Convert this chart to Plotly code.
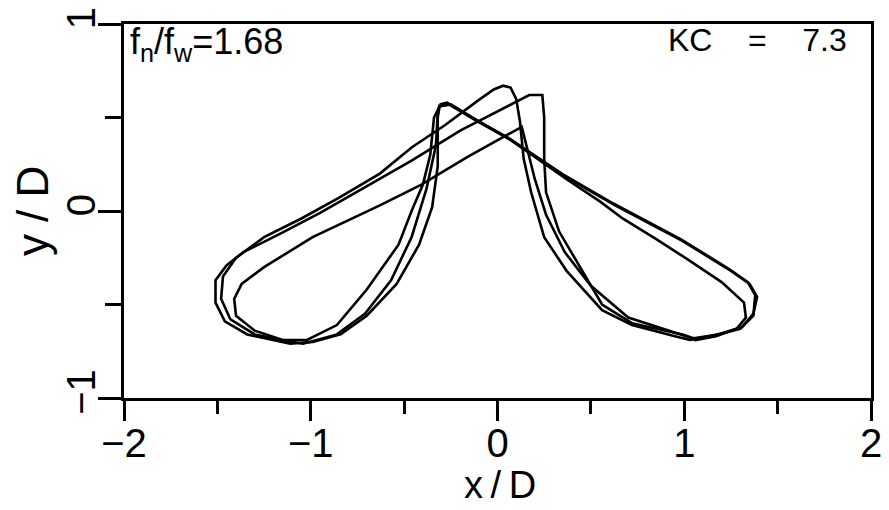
import plotly.graph_objects as go

# Cylinder trajectory, three successive oscillation cycles (x/D, y/D)
cycle1_x = [-0.31, -0.25, -0.10, 0.07, 0.37, 0.63, 0.99, 1.25, 1.35, 1.39, 1.37, 1.31, 1.18, 1.05, 0.99,
            0.72, 0.56, 0.46, 0.33, 0.26, 0.25, 0.25, 0.24, 0.17, -0.20, -0.46, -0.72, -0.95, -1.16, -1.36,
            -1.45, -1.51, -1.51, -1.46, -1.34, -1.11, -0.99, -0.84, -0.70, -0.54, -0.42, -0.35, -0.32, -0.32, -0.31]
cycle1_y = [0.56, 0.57, 0.48, 0.38, 0.18, 0.03, -0.16, -0.32, -0.39, -0.46, -0.55, -0.62, -0.66, -0.68, -0.66,
            -0.60, -0.50, -0.33, -0.11, 0.10, 0.28, 0.50, 0.62, 0.62, 0.43, 0.27, 0.12, -0.01, -0.12, -0.22,
            -0.29, -0.37, -0.49, -0.59, -0.66, -0.71, -0.70, -0.66, -0.56, -0.39, -0.18, 0.02, 0.24, 0.50, 0.56]

cycle2_x = [-0.31, -0.27, -0.12, 0.06, 0.36, 0.62, 0.98, 1.24, 1.34, 1.38, 1.37, 1.30, 1.14, 1.03, 0.95,
            0.72, 0.56, 0.37, 0.25, 0.18, 0.14, 0.12, 0.10, 0.07, 0.03, -0.02, -0.105, -0.28, -0.46, -0.63,
            -0.85, -1.05, -1.25, -1.40, -1.47, -1.48, -1.43, -1.30, -1.10, -1.04, -0.86, -0.71, -0.57, -0.46,
            -0.38, -0.33, -0.32, -0.31]
cycle2_y = [0.57, 0.58, 0.49, 0.39, 0.19, 0.04, -0.15, -0.31, -0.38, -0.45, -0.56, -0.63, -0.67, -0.69, -0.67,
            -0.61, -0.53, -0.32, -0.14, 0.10, 0.28, 0.48, 0.60, 0.66, 0.67, 0.65, 0.59, 0.46, 0.34, 0.20,
            0.07, -0.04, -0.14, -0.25, -0.35, -0.47, -0.58, -0.66, -0.70, -0.71, -0.66, -0.55, -0.37, -0.14,
            0.12, 0.35, 0.52, 0.57]

cycle3_x = [-0.31, -0.26, -0.11, 0.07, 0.37, 0.55, 0.67, 0.85, 1.02, 1.20, 1.32, 1.33, 1.28, 1.17, 1.06,
            1.01, 0.70, 0.50, 0.36, 0.26, 0.20, 0.16, 0.13, -0.16, -0.41, -0.63, -0.99, -1.25, -1.37, -1.41,
            -1.40, -1.30, -1.15, -1.02, -0.86, -0.70, -0.53, -0.46, -0.40, -0.36, -0.34, -0.31]
cycle3_y = [0.56, 0.57, 0.48, 0.38, 0.17, 0.05, -0.04, -0.15, -0.26, -0.38, -0.49, -0.57, -0.63, -0.67, -0.69,
            -0.67, -0.57, -0.40, -0.22, -0.02, 0.17, 0.34, 0.45, 0.29, 0.14, 0.03, -0.14, -0.30, -0.39, -0.47,
            -0.56, -0.64, -0.69, -0.69, -0.61, -0.42, -0.18, 0.00, 0.14, 0.30, 0.50, 0.56]

x_major = [-2, -1, 0, 1, 2]
x_major_text = ["\u22122", "\u22121", "0", "1", "2"]
x_minor = [-1.5, -0.5, 0.5, 1.5]
y_major = [-1, 0, 1]
y_major_text = ["\u22121", "0", "1"]
y_minor = [-0.5, 0.5]

FONT = "Liberation Sans"
INK = "black"
NB = "\u00a0"
TH = "\u2009"

fig = go.Figure()
for xs, ys in [(cycle1_x, cycle1_y), (cycle2_x, cycle2_y), (cycle3_x, cycle3_y)]:
    fig.add_trace(go.Scatter(x=xs, y=ys, mode="lines",
                             line=dict(color=INK, width=2.6), showlegend=False,
                             hoverinfo="skip"))

axis_common = dict(showline=True, linecolor=INK, linewidth=2.8, mirror=True,
                   ticks="outside", tickwidth=2.8, tickcolor=INK,
                   showgrid=False, zeroline=False, fixedrange=True,
                   ticklabeloverflow="allow")

fig.update_xaxes(range=[-2, 2], tickvals=x_major, ticktext=x_major_text, ticklen=20,
                 tickfont=dict(family=FONT, size=40, color=INK), ticklabelstandoff=-12,
                 minor=dict(ticks="outside", tickvals=x_minor, ticklen=13, tickwidth=2.8,
                            tickcolor=INK, showgrid=False),
                 **axis_common)
fig.update_yaxes(range=[-1, 1], tickvals=y_major, ticktext=y_major_text, ticklen=23,
                 tickangle=-90, tickfont=dict(family=FONT, size=40, color=INK),
                 ticklabelstandoff=-13,
                 minor=dict(ticks="outside", tickvals=y_minor, ticklen=16, tickwidth=2.8,
                            tickcolor=INK, showgrid=False),
                 **axis_common)

annotations = [
    dict(text="f<sub>n</sub>/f<sub>w</sub>=1.68", x=0.006, y=1.0, xref="paper", yref="paper",
         xanchor="left", yanchor="top", yshift=5, showarrow=False,
         font=dict(family=FONT, size=36, color=INK)),
    dict(text="KC" + NB * 4 + "=" + NB * 4 + "7.3", x=0.971, y=1.0, xref="paper", yref="paper",
         xanchor="right", yanchor="top", yshift=4, showarrow=False,
         font=dict(family=FONT, size=32, color=INK)),
    dict(text="x" + TH + "/" + TH + "D", x=0.503, y=-0.17, xref="paper", yref="paper",
         xanchor="center", yanchor="top", showarrow=False,
         font=dict(family=FONT, size=38, color=INK)),
    dict(text="y" + NB + "/" + NB + "D", x=-0.123, y=0.5, xref="paper", yref="paper", textangle=-90,
         xanchor="center", yanchor="middle", showarrow=False,
         font=dict(family=FONT, size=44, color=INK)),
]

fig.update_layout(width=889, height=510, margin=dict(l=124, r=7, t=14, b=112),
                  paper_bgcolor="white", plot_bgcolor="white",
                  annotations=annotations)

fig.write_html("out.html")
